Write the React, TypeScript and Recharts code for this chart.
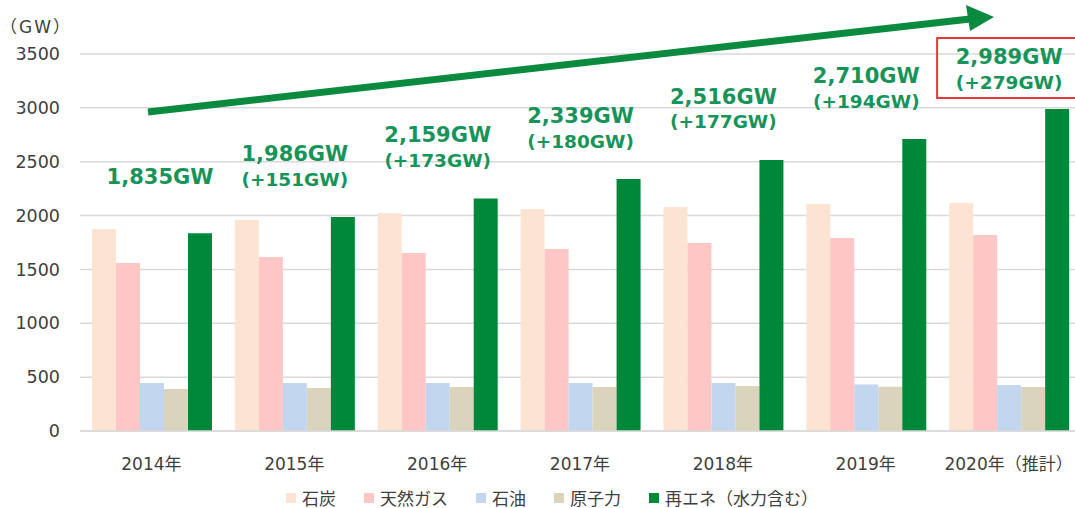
import { BarChart, Bar, XAxis, YAxis, CartesianGrid, Legend, LabelList, Customized } from 'recharts';

const years = ['2014年', '2015年', '2016年', '2017年', '2018年', '2019年', '2020年（推計）'];
const coal = [1875, 1959, 2024, 2061, 2080, 2108, 2117];
const gas = [1560, 1616, 1653, 1690, 1746, 1792, 1820];
const oil = [446, 445, 446, 446, 446, 432, 427];
const nuclear = [390, 400, 409, 409, 418, 410, 408];
const renew = [1835, 1986, 2159, 2339, 2516, 2710, 2989];
const renewText = ['1,835GW', '1,986GW', '2,159GW', '2,339GW', '2,516GW', '2,710GW', '2,989GW'];
const diffText = ['', '(+151GW)', '(+173GW)', '(+180GW)', '(+177GW)', '(+194GW)', '(+279GW)'];
const yTicks = [0, 500, 1000, 1500, 2000, 2500, 3000, 3500];

const series = [
  { key: 'coal', name: '石炭', color: '#FDE4D2' },
  { key: 'gas', name: '天然ガス', color: '#FEC6C4' },
  { key: 'oil', name: '石油', color: '#C3D6F0' },
  { key: 'nuclear', name: '原子力', color: '#DAD4BD' },
  { key: 'renew', name: '再エネ（水力含む）', color: '#00883A' },
];

const data = years.map((year, i) => ({
  year,
  coal: coal[i],
  gas: gas[i],
  oil: oil[i],
  nuclear: nuclear[i],
  renew: renew[i],
  total: renewText[i],
  diff: diffText[i],
}));

const jp = '"DejaVu Sans", "Noto Sans CJK JP", sans-serif';
const labelGreen = '#16945A';

function RenewLabel(props: any) {
  const { x, y, width, index } = props;
  // centre of the category = green bar centre minus two bar widths
  const cx = x + width / 2 - 2 * width + (index === 0 ? 8 : 0);
  const d = diffText[index];
  const boxed = index === years.length - 1;
  const y1 = boxed ? y - 52 : d ? y - 63 : y - 56;
  return (
    <g>
      {boxed && (
        <rect x={cx - 72} y={y - 71} width={150} height={60} fill="none" stroke="#E0353B" strokeWidth={2} />
      )}
      <text x={cx} y={y1} textAnchor="middle" dominantBaseline="central" fill={labelGreen} fontSize={21} fontWeight="bold" fontFamily={jp}>
        {renewText[index]}
      </text>
      {d && (
        <text x={cx} y={y1 + 25} textAnchor="middle" dominantBaseline="central" fill={labelGreen} fontSize={18.5} fontWeight="bold" fontFamily={jp}>
          {d}
        </text>
      )}
    </g>
  );
}

function Decor() {
  return (
    <g>
      <text x={36} y={27} textAnchor="middle" dominantBaseline="central" fill="#404040" fontSize={17} fontFamily={jp} letterSpacing={2}>
        （GW）
      </text>
      <line x1={148} y1={112} x2={970} y2={19} stroke="#0A8A3E" strokeWidth={7} />
      <polygon points="994,17 966,5 970,31" fill="#0A8A3E" />
    </g>
  );
}

function LegendRow() {
  return (
    <div style={{ display: 'flex', justifyContent: 'center', gap: 28, fontFamily: jp, fontSize: 17, color: '#404040', paddingLeft: 24, paddingTop: 12 }}>
      {series.map((s) => (
        <div key={s.key} style={{ display: 'flex', alignItems: 'center' }}>
          <span style={{ width: 10, height: 10, background: s.color, marginRight: 6, display: 'inline-block' }} />
          {s.name}
        </div>
      ))}
    </div>
  );
}

export default function App() {
  return (
    <div style={{ position: 'absolute', left: 0, top: 0, width: 1075, height: 508, background: '#fff', overflow: 'hidden' }}>
      <BarChart
        width={1080}
        height={508}
        data={data}
        margin={{ top: 54, right: 0, left: 0, bottom: 0 }}
        barCategoryGap={12}
        barGap={0}
      >
        <CartesianGrid vertical={false} stroke="#D9D9D9" strokeWidth={1.5} />
        <XAxis
          dataKey="year"
          axisLine={{ stroke: '#D9D9D9', strokeWidth: 1.5 }}
          tickLine={false}
          height={42}
          tickMargin={21}
          interval={0}
          tick={{ fill: '#404040', fontSize: 17, fontFamily: jp }}
        />
        <YAxis
          width={80}
          domain={[0, 3500]}
          ticks={yTicks}
          axisLine={false}
          tickLine={false}
          tickMargin={14}
          tick={{ fill: '#404040', fontSize: 17.5, fontFamily: jp }}
        />
        <Legend verticalAlign="bottom" height={35} content={<LegendRow />} />
        {series.map((s) => (
          <Bar key={s.key} dataKey={s.key} name={s.name} fill={s.color} isAnimationActive={false}>
            {s.key === 'renew' && <LabelList dataKey="total" content={<RenewLabel />} />}
          </Bar>
        ))}
        <Customized component={<Decor />} />
      </BarChart>
    </div>
  );
}
